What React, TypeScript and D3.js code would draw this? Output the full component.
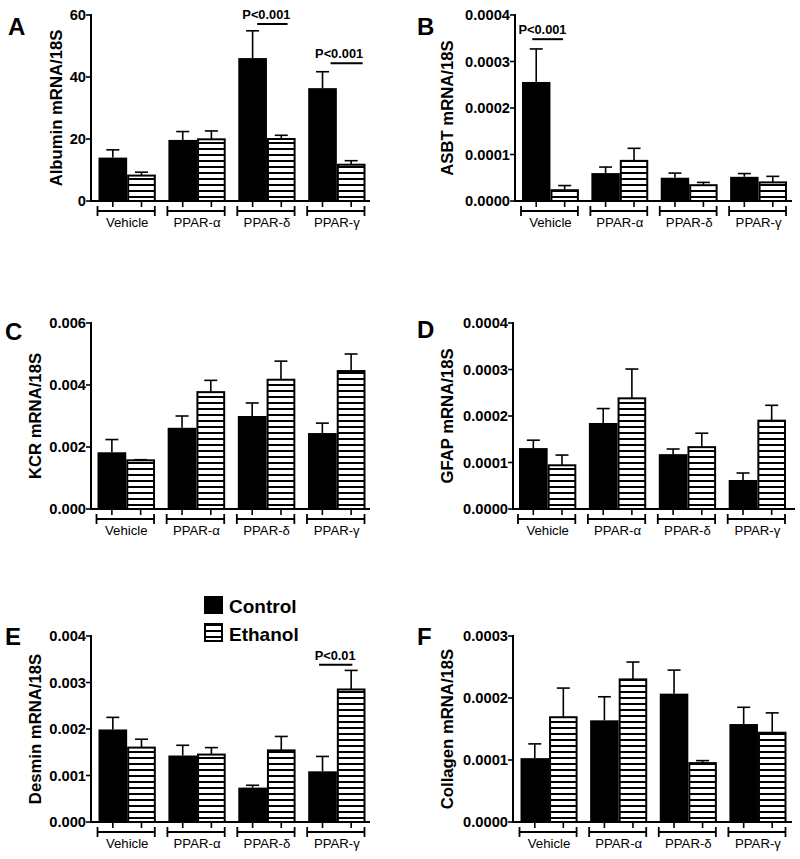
import React from "react";
import * as d3 from "d3";

const categories = ["Vehicle", "PPAR-α", "PPAR-δ", "PPAR-γ"];

const albuminControl = [14.0, 19.7, 46.1, 36.4];
const albuminControlErr = [2.5, 2.7, 8.8, 5.3];
const albuminEthanol = [8.2, 19.9, 20.0, 11.7];
const albuminEthanolErr = [1.1, 2.7, 1.2, 1.3];

const asbtControl = [0.000256, 0.00006, 0.00005, 0.000052];
const asbtControlErr = [0.000071, 0.000013, 0.00001, 0.000007];
const asbtEthanol = [0.0000232, 0.0000863, 0.000034, 0.00004];
const asbtEthanolErr = [0.00001, 0.000027, 0.000006, 0.000013];

const kcrControl = [0.00183, 0.00262, 0.003, 0.00245];
const kcrControlErr = [0.00041, 0.00038, 0.00042, 0.00032];
const kcrEthanol = [0.00157, 0.00377, 0.00417, 0.00445];
const kcrEthanolErr = [0.00002, 0.00038, 0.0006, 0.00055];

const gfapControl = [0.000131, 0.000185, 0.000118, 0.0000624];
const gfapControlErr = [0.000017, 0.000031, 0.000011, 0.000015];
const gfapEthanol = [0.000094, 0.000238, 0.000133, 0.00019];
const gfapEthanolErr = [0.000022, 0.000063, 0.00003, 0.000033];

const desminControl = [0.00199, 0.00143, 0.00074, 0.00109];
const desminControlErr = [0.00026, 0.00022, 0.00005, 0.00032];
const desminEthanol = [0.0016, 0.00145, 0.00154, 0.00285];
const desminEthanolErr = [0.00018, 0.00015, 0.0003, 0.00041];

const collagenControl = [0.000103, 0.000164, 0.000207, 0.000158];
const collagenControlErr = [0.000023, 0.000038, 0.000038, 0.000027];
const collagenEthanol = [0.000169, 0.00023, 0.000095, 0.000144];
const collagenEthanolErr = [0.000047, 0.000028, 0.000004, 0.000032];

const albuminTicks = [0, 20, 40, 60];
const asbtTicks = [0, 0.0001, 0.0002, 0.0003, 0.0004];
const kcrTicks = [0, 0.002, 0.004, 0.006];
const gfapTicks = [0, 0.0001, 0.0002, 0.0003, 0.0004];
const desminTicks = [0, 0.001, 0.002, 0.003, 0.004];
const collagenTicks = [0, 0.0001, 0.0002, 0.0003];

const legendLabels = ["Control", "Ethanol"];

const FONT = "'Liberation Sans', Arial, Helvetica, sans-serif";

type Sig = { group: number; value: number; text: string; l0: number; l1: number; tc: number };

type PanelCfg = {
  id: string;
  letter: string;
  ylabel: string;
  control: number[];
  controlErr: number[];
  ethanol: number[];
  ethanolErr: number[];
  ticks: number[];
  fmt: string;
  axisX: number;
  axisEnd: number;
  barStart: number;
  barEnd: number;
  yTop: number;
  y0: number;
  labelX: number;
  letterX: number;
  letterY: number;
  sigs: Sig[];
};

const panels: PanelCfg[] = [
  {
    id: "A", letter: "A", ylabel: "Albumin mRNA/18S",
    control: albuminControl, controlErr: albuminControlErr,
    ethanol: albuminEthanol, ethanolErr: albuminEthanolErr,
    ticks: albuminTicks, fmt: "d",
    axisX: 91, axisEnd: 370, barStart: 98.5, barEnd: 365.5, yTop: 15, y0: 201,
    labelX: 62, letterX: 8, letterY: 35,
    sigs: [
      { group: 2, value: 57.1, text: "P<0.001", l0: 0.33, l1: 0.86, tc: 0.49 },
      { group: 3, value: 44.4, text: "P<0.001", l0: 0.39, l1: 0.95, tc: 0.54 },
    ],
  },
  {
    id: "B", letter: "B", ylabel: "ASBT mRNA/18S",
    control: asbtControl, controlErr: asbtControlErr,
    ethanol: asbtEthanol, ethanolErr: asbtEthanolErr,
    ticks: asbtTicks, fmt: ".4f",
    axisX: 515, axisEnd: 792, barStart: 522, barEnd: 787, yTop: 15, y0: 201,
    labelX: 453, letterX: 417, letterY: 35,
    sigs: [{ group: 0, value: 0.000348, text: "P<0.001", l0: 0.18, l1: 0.72, tc: 0.36 }],
  },
  {
    id: "C", letter: "C", ylabel: "KCR mRNA/18S",
    control: kcrControl, controlErr: kcrControlErr,
    ethanol: kcrEthanol, ethanolErr: kcrEthanolErr,
    ticks: kcrTicks, fmt: ".3f",
    axisX: 91, axisEnd: 370, barStart: 97.5, barEnd: 365.5, yTop: 323, y0: 509,
    labelX: 41, letterX: 5, letterY: 340,
    sigs: [],
  },
  {
    id: "D", letter: "D", ylabel: "GFAP mRNA/18S",
    control: gfapControl, controlErr: gfapControlErr,
    ethanol: gfapEthanol, ethanolErr: gfapEthanolErr,
    ticks: gfapTicks, fmt: ".4f",
    axisX: 513, axisEnd: 795, barStart: 519, barEnd: 786, yTop: 323, y0: 509,
    labelX: 453, letterX: 417, letterY: 338,
    sigs: [],
  },
  {
    id: "E", letter: "E", ylabel: "Desmin mRNA/18S",
    control: desminControl, controlErr: desminControlErr,
    ethanol: desminEthanol, ethanolErr: desminEthanolErr,
    ticks: desminTicks, fmt: ".3f",
    axisX: 91, axisEnd: 370, barStart: 98.5, barEnd: 365.5, yTop: 636, y0: 822,
    labelX: 41, letterX: 5, letterY: 645,
    sigs: [{ group: 3, value: 0.00338, text: "P<0.01", l0: 0.19, l1: 0.77, tc: 0.47 }],
  },
  {
    id: "F", letter: "F", ylabel: "Collagen mRNA/18S",
    control: collagenControl, controlErr: collagenControlErr,
    ethanol: collagenEthanol, ethanolErr: collagenEthanolErr,
    ticks: collagenTicks, fmt: ".4f",
    axisX: 513, axisEnd: 792, barStart: 520.5, barEnd: 786.5, yTop: 636, y0: 822,
    labelX: 453, letterX: 417, letterY: 645,
    sigs: [],
  },
];

function Panel({ p }: { p: PanelCfg }) {
  const yMax = p.ticks[p.ticks.length - 1];
  const y = d3.scaleLinear().domain([0, yMax]).range([p.y0, p.yTop]);
  const xg = d3.scaleBand<string>().domain(categories).range([p.barStart, p.barEnd]).paddingInner(0.18).paddingOuter(0);
  const xs = d3.scaleBand<string>().domain(["c", "e"]).range([0, xg.bandwidth()]).padding(0);
  const bw = xs.bandwidth();
  const fmt = d3.format(p.fmt);
  const patId = "stripes" + p.id;
  const capHalf = 6.5;

  const bars: { key: string; x: number; v: number; err: number; eth: boolean }[] = [];
  categories.forEach((c, i) => {
    bars.push({ key: c + "c", x: (xg(c) as number) + (xs("c") as number), v: p.control[i], err: p.controlErr[i], eth: false });
    bars.push({ key: c + "e", x: (xg(c) as number) + (xs("e") as number), v: p.ethanol[i], err: p.ethanolErr[i], eth: true });
  });

  return (
    <g>
      <defs>
        <pattern id={patId} patternUnits="userSpaceOnUse" width={8} height={6} patternTransform={`translate(0,${p.y0 + 1})`}>
          <rect x={0} y={0} width={8} height={6} fill="#fff" />
          <rect x={0} y={0} width={8} height={2} fill="#000" />
        </pattern>
      </defs>
      {bars.map((b) => (
        <g key={"err" + b.key} stroke="#000" strokeWidth={1.6}>
          <line x1={b.x + bw / 2} x2={b.x + bw / 2} y1={y(b.v)} y2={y(b.v + b.err)} />
          <line x1={b.x + bw / 2 - capHalf} x2={b.x + bw / 2 + capHalf} y1={y(b.v + b.err)} y2={y(b.v + b.err)} />
        </g>
      ))}
      {bars.map((b) =>
        b.eth ? (
          <rect key={b.key} x={b.x + 1} y={y(b.v)} width={bw - 2} height={p.y0 - y(b.v)} fill={`url(#${patId})`} stroke="#000" strokeWidth={2} />
        ) : (
          <rect key={b.key} x={b.x} y={y(b.v)} width={bw} height={p.y0 - y(b.v)} fill="#000" />
        )
      )}
      <line x1={p.axisX} x2={p.axisX} y1={p.yTop - 1} y2={p.y0 + 1} stroke="#000" strokeWidth={2} />
      {p.ticks.map((t) => (
        <g key={"t" + t}>
          <line x1={p.axisX - 5} x2={p.axisX} y1={y(t)} y2={y(t)} stroke="#000" strokeWidth={1.6} />
          <text x={p.axisX - 5} y={y(t)} dy="0.36em" textAnchor="end" fontFamily={FONT} fontWeight="bold" fontSize={14.7} fill="#000">
            {fmt(t)}
          </text>
        </g>
      ))}
      <line x1={p.axisX} x2={p.axisEnd} y1={p.y0} y2={p.y0} stroke="#000" strokeWidth={2} />
      {bars.map((b) => (
        <line key={"xt" + b.key} x1={b.x + bw / 2} x2={b.x + bw / 2} y1={p.y0} y2={p.y0 + 6} stroke="#000" strokeWidth={1.6} />
      ))}
      {categories.map((c) => {
        const gx = xg(c) as number;
        const gw = xg.bandwidth();
        const by = p.y0 + 10;
        return (
          <g key={"br" + c} stroke="#000" strokeWidth={1.8}>
            <line x1={gx - 1} x2={gx + gw - 1} y1={by} y2={by} />
            <line x1={gx - 1} x2={gx - 1} y1={by - 5} y2={by + 5} />
            <line x1={gx + gw - 1} x2={gx + gw - 1} y1={by - 5} y2={by + 5} />
            <text x={gx + gw / 2} y={p.y0 + 26} textAnchor="middle" fontFamily={FONT} fontSize={13.2} stroke="none" fill="#000">
              {c}
            </text>
          </g>
        );
      })}
      {p.sigs.map((s, i) => {
        const gx = xg(categories[s.group]) as number;
        const gw = xg.bandwidth();
        const ly = y(s.value);
        return (
          <g key={"sig" + i}>
            <line x1={gx + gw * s.l0} x2={gx + gw * s.l1} y1={ly} y2={ly} stroke="#000" strokeWidth={2} />
            <text x={gx + gw * s.tc} y={ly - 5} textAnchor="middle" fontFamily={FONT} fontWeight="bold" fontSize={12.8} fill="#000">
              {s.text}
            </text>
          </g>
        );
      })}
      <text
        transform={`translate(${p.labelX},${(p.yTop + p.y0) / 2}) rotate(-90)`}
        textAnchor="middle"
        fontFamily={FONT}
        fontWeight="bold"
        fontSize={16.7}
        fill="#000"
      >
        {p.ylabel}
      </text>
      <text x={p.letterX} y={p.letterY} fontFamily={FONT} fontWeight="bold" fontSize={24} fill="#000">
        {p.letter}
      </text>
    </g>
  );
}

export default function App() {
  return (
    <svg width={800} height={859} style={{ position: "absolute", left: 0, top: 0, background: "#fff" }}>
      <rect x={0} y={0} width={800} height={859} fill="#fff" />
      {panels.map((p) => (
        <Panel key={p.id} p={p} />
      ))}
      <defs>
        <pattern id="legendStripes" patternUnits="userSpaceOnUse" width={8} height={6} patternTransform="translate(0,624)">
          <rect x={0} y={0} width={8} height={6} fill="#fff" />
          <rect x={0} y={0} width={8} height={2} fill="#000" />
        </pattern>
      </defs>
      <rect x={204} y={596} width={19} height={18} fill="#000" />
      <text x={229} y={613} fontFamily={FONT} fontWeight="bold" fontSize={19} fill="#000">
        {legendLabels[0]}
      </text>
      <rect x={205} y={624} width={17} height={17} fill="url(#legendStripes)" stroke="#000" strokeWidth={2} />
      <text x={229} y={641} fontFamily={FONT} fontWeight="bold" fontSize={19} fill="#000">
        {legendLabels[1]}
      </text>
    </svg>
  );
}
